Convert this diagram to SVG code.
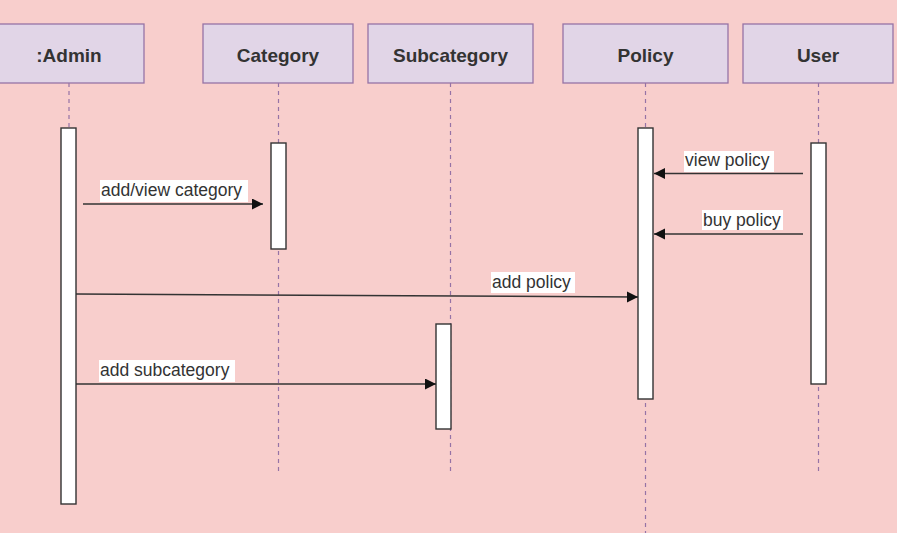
<svg xmlns="http://www.w3.org/2000/svg" width="897" height="533" viewBox="0 0 897 533">
<style>
.hdr{fill:#e1d5e7;stroke:#9673a6;stroke-width:1.3}
.hdrt{font-family:"Liberation Sans",Arial,sans-serif;font-size:19px;font-weight:bold;fill:#333;text-anchor:middle}
.life{stroke:#9673a6;stroke-width:1.2;stroke-dasharray:4 4;fill:none}
.act{fill:#fff;stroke:#333;stroke-width:1.4}
.msg{stroke:#333;stroke-width:1.4;fill:none;marker-end:url(#ah)}
.lbg{fill:#fff}
.lbl{font-family:"Liberation Sans",Arial,sans-serif;font-size:17.5px;fill:#333}
</style>
<defs>
<marker id="ah" markerUnits="userSpaceOnUse" markerWidth="12" markerHeight="12" refX="11" refY="5.5" orient="auto">
<path d="M0,0 L11,5.5 L0,11 z" fill="#111"/>
</marker>
</defs>
<rect x="0" y="0" width="897" height="533" fill="#f8cecc"/>
<g id="admin">
<rect class="hdr" x="-6" y="24" width="150" height="59"/>
<text class="hdrt" x="69" y="62">:Admin</text>
<line class="life" x1="69" y1="83" x2="69" y2="128"/>
<rect class="act" x="61" y="128" width="15" height="376"/>
</g>
<g id="category">
<rect class="hdr" x="203" y="24" width="150" height="59"/>
<text class="hdrt" x="278" y="62">Category</text>
<line class="life" x1="278.5" y1="83" x2="278.5" y2="475"/>
<rect class="act" x="271" y="143" width="15" height="106"/>
</g>
<g id="subcategory">
<rect class="hdr" x="368" y="24" width="165" height="59"/>
<text class="hdrt" x="450.5" y="62">Subcategory</text>
<line class="life" x1="450.5" y1="83" x2="450.5" y2="475"/>
<rect class="act" x="436" y="324" width="15" height="105"/>
</g>
<g id="policy">
<rect class="hdr" x="563" y="24" width="165" height="59"/>
<text class="hdrt" x="645.5" y="62">Policy</text>
<line class="life" x1="645.5" y1="83" x2="645.5" y2="533"/>
<rect class="act" x="638" y="128" width="15" height="271"/>
</g>
<g id="user">
<rect class="hdr" x="743" y="24" width="150" height="59"/>
<text class="hdrt" x="818" y="62">User</text>
<line class="life" x1="818.5" y1="83" x2="818.5" y2="475"/>
<rect class="act" x="811" y="143" width="15" height="241"/>
</g>
<g id="connectors">
<line class="msg" x1="83" y1="204" x2="263" y2="204"/>
<rect class="lbg" x="100" y="180" width="148" height="22"/>
<text class="lbl" x="101" y="196">add/view category</text>
<line class="msg" x1="803" y1="173.5" x2="654" y2="173.5"/>
<rect class="lbg" x="684" y="151" width="90" height="21"/>
<text class="lbl" x="685" y="166">view policy</text>
<line class="msg" x1="803" y1="234" x2="654" y2="234"/>
<rect class="lbg" x="702" y="210" width="81" height="20"/>
<text class="lbl" x="703" y="226">buy policy</text>
<line class="msg" x1="76" y1="294" x2="638" y2="297"/>
<rect class="lbg" x="491" y="272" width="84" height="21"/>
<text class="lbl" x="492" y="288">add policy</text>
<line class="msg" x1="76" y1="384" x2="436" y2="384"/>
<rect class="lbg" x="99" y="360" width="136" height="22"/>
<text class="lbl" x="100" y="376">add subcategory</text>
</g>
</svg>
